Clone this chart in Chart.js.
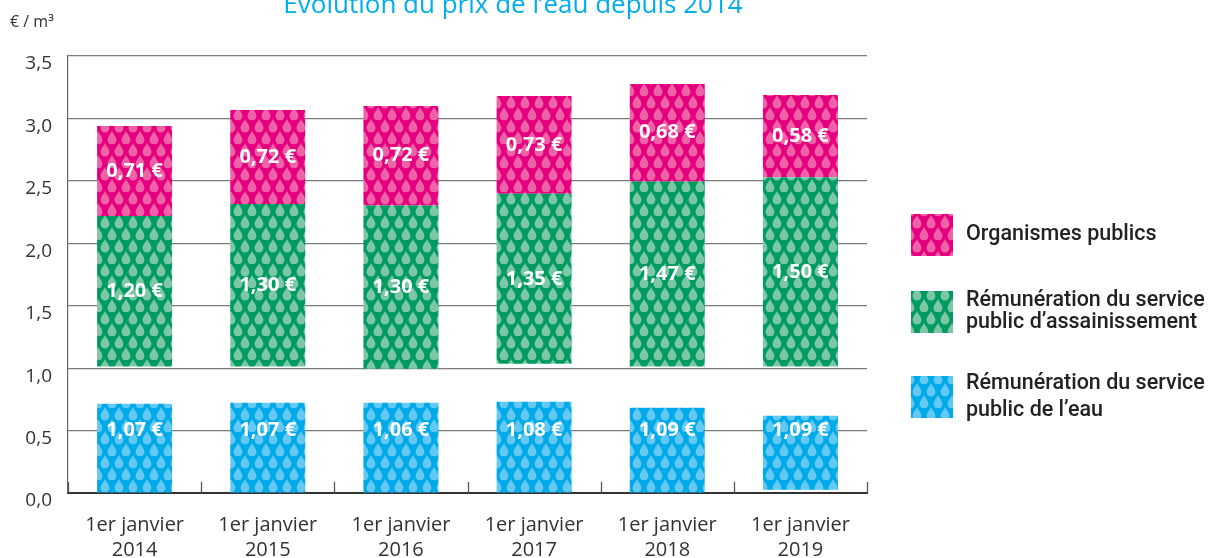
<!DOCTYPE html>
<html><head><meta charset="utf-8">
<script src="https://cdn.jsdelivr.net/npm/chart.js@4.4.1/dist/chart.umd.min.js"></script>
<style>html,body{margin:0;padding:0;background:#fff;overflow:hidden}canvas{display:block}</style>
</head><body>
<canvas id="c" width="1213" height="558"></canvas>
<script>
// ---- data ----
const categories = [['1er janvier','2014'],['1er janvier','2015'],['1er janvier','2016'],['1er janvier','2017'],['1er janvier','2018'],['1er janvier','2019']];
// drawn extents of each bar segment on the € / m³ axis [start, end]
const eauBars        = [[0,0.715],[0,0.723],[0,0.723],[0,0.730],[0,0.683],[0.026,0.619]];
const assainBars     = [[1.013,2.219],[1.013,2.315],[0.995,2.302],[1.035,2.396],[1.013,2.494],[1.013,2.529]];
const organismesBars = [[2.219,2.940],[2.315,3.068],[2.302,3.100],[2.396,3.180],[2.494,3.276],[2.529,3.188]];
// printed amounts (€ / m³)
const eauValues        = [1.07,1.07,1.06,1.08,1.09,1.09];
const assainValues     = [1.20,1.30,1.30,1.35,1.47,1.50];
const organismesValues = [0.71,0.72,0.72,0.73,0.68,0.58];
const seriesNames = ['Organismes publics', ['Rémunération du service','public d\u2019assainissement'], ['Rémunération du service','public de l\u2019eau']];
const yMin = 0, yMax = 3.5, yStep = 0.5;

// ---- droplet patterns ----
function dropPattern(base, drop){
  const w = 14, h = 24;
  const c = document.createElement('canvas'); c.width = w; c.height = h;
  const g = c.getContext('2d');
  g.fillStyle = base; g.fillRect(0,0,w,h);
  g.fillStyle = drop;
  function d(cx, top){
    const r = 4.4, H = 13.5, cy = top + H - r;
    g.beginPath();
    g.moveTo(cx, top);
    g.bezierCurveTo(cx + 1, top + 3, cx + r, cy - 4, cx + r, cy);
    g.arc(cx, cy, r, 0, Math.PI);
    g.bezierCurveTo(cx - r, cy - 4, cx - 1, top + 3, cx, top);
    g.fill();
  }
  d(7, -1); d(7, 23); d(0, 11); d(14, 11);
  return g.createPattern(c, 'repeat');
}
const pinkPat  = dropPattern('#E4007F', '#EE62A8');
const greenPat = dropPattern('#009B62', '#7CC7A5');
const bluePat  = dropPattern('#00A9E7', '#63C9F3');

const fmt = v => v.toFixed(2).replace('.', ',') + ' €';

const labelsPlugin = {
  id: 'barLabels',
  afterDatasetsDraw(chart){
    const ctx = chart.ctx, ys = chart.scales.y;
    ctx.save();
    ctx.font = 'bold 20px "Open Sans"';
    ctx.fillStyle = '#fff';
    ctx.textAlign = 'center'; ctx.textBaseline = 'middle';
    chart.data.datasets.forEach((ds, di) => {
      chart.getDatasetMeta(di).data.forEach((bar, i) => {
        const y = ds.labelAt !== undefined ? ys.getPixelForValue(ds.labelAt) : (bar.y + bar.base) / 2;
        ctx.fillText(fmt(ds.amounts[i]), bar.x, y);
      });
    });
    ctx.restore();
  }
};

const decoPlugin = {
  id: 'deco',
  afterDraw(chart){
    const ctx = chart.ctx, xs = chart.scales.x, ca = chart.chartArea;
    ctx.save();
    // upward tick marks at category boundaries
    ctx.strokeStyle = '#555'; ctx.lineWidth = 1.3;
    for (let i = 0; i <= categories.length; i++){
      const x = Math.round(xs.getPixelForValue(i - 0.5)) + 0.5;
      ctx.beginPath(); ctx.moveTo(x, ca.bottom); ctx.lineTo(x, ca.bottom - 11); ctx.stroke();
    }
    // title
    ctx.fillStyle = '#00AEEF';
    ctx.font = '26px "Open Sans"';
    ctx.textAlign = 'center'; ctx.textBaseline = 'alphabetic';
    ctx.fillText('Evolution du prix de l\u2019eau depuis 2014', 513, 13);
    // unit
    ctx.fillStyle = '#333';
    ctx.font = '16px "Open Sans"';
    ctx.textAlign = 'left'; ctx.textBaseline = 'middle';
    ctx.fillText('€ / m³', 10, 22);
    // legend
    const items = [
      {pat: pinkPat,  top: 214, gap: 22},
      {pat: greenPat, top: 291, gap: 22},
      {pat: bluePat,  top: 376, gap: 27}
    ];
    ctx.font = '500 21.5px Roboto';
    items.forEach((it, k) => {
      ctx.fillStyle = it.pat;
      ctx.fillRect(911, it.top, 42, 42);
      ctx.fillStyle = '#222';
      const lines = Array.isArray(seriesNames[k]) ? seriesNames[k] : [seriesNames[k]];
      const cy = it.top + 21;
      lines.forEach((t, j) => {
        ctx.fillText(t, 966, cy + (j - (lines.length - 1) / 2) * it.gap);
      });
    });
    ctx.restore();
  }
};

new Chart(document.getElementById('c'), {
  type: 'bar',
  data: {
    labels: categories,
    datasets: [
      {label: 'Rémunération du service public de l\u2019eau', data: eauBars, amounts: eauValues, labelAt: 0.5, backgroundColor: bluePat},
      {label: 'Rémunération du service public d\u2019assainissement', data: assainBars, amounts: assainValues, backgroundColor: greenPat},
      {label: 'Organismes publics', data: organismesBars, amounts: organismesValues, backgroundColor: pinkPat}
    ]
  },
  options: {
    responsive: false,
    animation: false,
    layout: {padding: {left: 0, right: 346, top: 56, bottom: 0}},
    datasets: {bar: {categoryPercentage: 1, barPercentage: 0.563, borderWidth: 0}},
    plugins: {legend: {display: false}, title: {display: false}, tooltip: {enabled: false}},
    scales: {
      x: {
        stacked: true,
        grid: {display: false, drawTicks: false},
        border: {display: true, color: '#333', width: 2},
        ticks: {color: '#333', font: {family: '"Open Sans"', size: 20, lineHeight: 1.25}, padding: 20, maxRotation: 0, autoSkip: false},
        afterFit(s){ s.height = 65; }
      },
      y: {
        stacked: false,
        min: yMin, max: yMax,
        grid: {color: '#7a7a7a', lineWidth: 1.2, drawTicks: false},
        border: {display: true, color: '#666', width: 1.2},
        ticks: {stepSize: yStep, color: '#333', padding: 16, labelOffset: 8,
                font: {family: '"Open Sans"', size: 19},
                callback: v => v.toFixed(1).replace('.', ',')},
        afterFit(s){ s.width = 68; }
      }
    }
  },
  plugins: [labelsPlugin, decoPlugin]
});
</script>
</body></html>
